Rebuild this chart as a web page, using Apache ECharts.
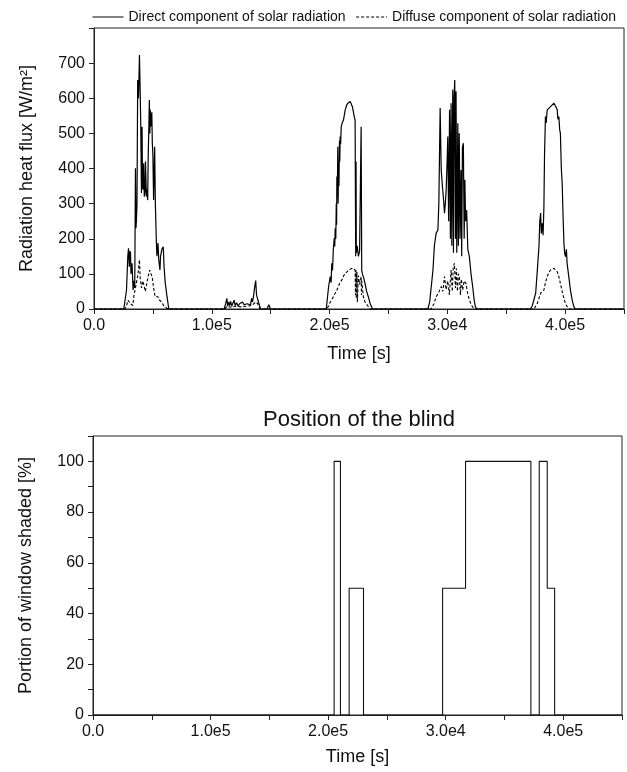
<!DOCTYPE html>
<html>
<head>
<meta charset="utf-8">
<script src="https://cdn.jsdelivr.net/npm/echarts@6/dist/echarts.min.js"></script>
<style>html,body{margin:0;padding:0;background:#fff}#c{width:627px;height:772px}</style>
</head>
<body>
<div id="c"></div>
<script>
// ---- Data (time in s, flux in W/m2) ----
const directDay1 = [[0,0],[25300,0],[27600,54],[28700,150],[29300,173],[30000,120],[30500,165],[31000,159],[31400,100],[31800,95],[32300,130],[33200,54],[33900,80],[34600,60],[35200,401],[35600,230],[36000,250],[36500,300],[37100,652],[37800,600],[38600,723],[39100,640],[39700,524],[40300,330],[40800,519],[41200,350],[41600,340],[42200,415],[42700,320],[43300,330],[43700,420],[44500,320],[45000,340],[45600,310],[46000,433],[46600,520],[47000,595],[47400,500],[47800,567],[48200,520],[48700,547],[49100,560],[49500,473],[50000,440],[50600,310],[51000,380],[51500,462],[52100,300],[52900,196],[53400,150],[54300,188],[55000,140],[56000,111],[56500,150],[57600,170],[58800,177],[59500,120],[60500,74],[62000,35],[63500,0]];
const directDay2 = [[110500,0],[111800,15],[112800,30],[113500,8],[114300,20],[115200,10],[116000,22],[116900,8],[117700,15],[119000,25],[119800,10],[121100,18],[122400,8],[123600,15],[124900,10],[126200,20],[127400,12],[128700,8],[130000,15],[131600,20],[132900,12],[133800,30],[134600,20],[135400,35],[136300,60],[137300,81],[138000,40],[138800,30],[139700,35],[140500,10],[141500,0],[146800,0],[148500,12],[149800,0]];
const directDay3 = [[197200,0],[199200,64],[200600,92],[201300,75],[201900,130],[202500,110],[203200,170],[204000,202],[204400,178],[204800,230],[205300,200],[205700,300],[206000,240],[206200,377],[206600,320],[207000,462],[207300,300],[207600,420],[208000,350],[208400,480],[208700,420],[209000,491],[209400,470],[209900,519],[210800,530],[211800,538],[213300,567],[214500,580],[215500,586],[216500,590],[217500,591],[218500,588],[219400,576],[220300,560],[221100,545],[221700,538],[222000,300],[222200,150],[222500,420],[222700,160],[223500,180],[224500,150],[225500,165],[226400,160],[226800,519],[227100,300],[227300,110],[227900,100],[228700,92],[230100,73],[231500,50],[232900,35],[234500,15],[236500,0]];
const directDay4 = [[283500,0],[285000,20],[287800,111],[289000,180],[290500,216],[292000,225],[292800,301],[293900,572],[294800,396],[295800,350],[296800,311],[297600,273],[298300,300],[299000,339],[299800,420],[300400,491],[301100,250],[301900,567],[302600,200],[303200,586],[303800,180],[304600,624],[305200,160],[305700,600],[306300,652],[306900,200],[307400,620],[308000,160],[308900,529],[309400,180],[310100,500],[310800,200],[311600,396],[312200,150],[312800,460],[313600,472],[314300,200],[314900,368],[315500,250],[316400,282],[317400,170],[318700,149],[320100,100],[321500,64],[322800,25],[323800,7],[324900,0]];
const directDay5 = [[370700,0],[372200,10],[375000,45],[376400,110],[377800,178],[378500,250],[379200,273],[379800,215],[380600,244],[381300,210],[382000,291],[382500,434],[383300,548],[383900,530],[384800,567],[386200,570],[387600,576],[389000,580],[390500,586],[391800,578],[393300,567],[393900,540],[394700,548],[395400,510],[396000,500],[396800,400],[397500,358],[398400,250],[399000,187],[399600,160],[400300,149],[401100,170],[401700,130],[403200,90],[404500,54],[406000,25],[407400,7],[408500,0],[450000,0]];

const diffuseDay1 = [[0,0],[26200,0],[27600,10],[28900,25],[30000,20],[31000,15],[31800,20],[32900,10],[34000,40],[35200,60],[36300,80],[37400,100],[38600,140],[39200,90],[40300,60],[41400,80],[42200,70],[43600,50],[44700,70],[45800,90],[47300,111],[48400,100],[49500,90],[50600,60],[51900,35],[52900,30],[54300,35],[55700,25],[57400,20],[59100,10],[60800,5],[62700,0]];
const diffuseDay2 = [[111000,0],[113000,8],[116000,5],[120000,8],[125000,6],[130000,8],[134000,10],[137300,20],[139000,15],[141000,0]];
const diffuseDay3 = [[197500,0],[199500,10],[200600,20],[201900,26],[203200,35],[204800,45],[206200,54],[207600,65],[209000,76],[210500,83],[212000,95],[213300,100],[214800,106],[216500,112],[218000,116],[219400,116],[220500,114],[221700,111],[222000,40],[222400,110],[222700,30],[223200,105],[223600,20],[224500,95],[225500,70],[226800,92],[227100,40],[227300,80],[228700,35],[230100,20],[232900,7],[234500,0]];
const diffuseDay4 = [[286100,0],[288700,15],[290500,35],[292400,45],[294800,64],[296200,50],[297600,92],[299000,55],[300400,80],[301700,40],[303200,111],[304200,50],[305000,120],[306000,130],[306900,60],[307700,115],[308600,50],[309400,100],[310300,92],[311100,40],[311900,85],[313000,54],[314300,80],[315800,73],[317200,45],[318700,26],[320600,10],[322900,0]];
const diffuseDay5 = [[373600,0],[376400,16],[377800,30],[379200,45],[380600,40],[382000,54],[383300,75],[384800,92],[386200,104],[387600,111],[389000,115],[390500,116],[391800,112],[393300,106],[394700,92],[396000,73],[397500,50],[399000,30],[400300,15],[401700,7],[403400,0],[450000,0]];

// Blind position (% shaded), value holds from each time until the next
const blindTime  = [0, 205100, 210500, 217900, 230100, 297400, 316900, 372500, 379600, 386400, 392700, 450000];
const blindShade = [0, 100, 0, 50, 0, 50, 100, 0, 100, 50, 0, 0];

const xTickValues = [0, 100000, 200000, 300000, 400000];
const xTickLabels = ['0.0', '1.0e5', '2.0e5', '3.0e4', '4.0e5'];

const seriesNames = ['Direct component of solar radiation', 'Diffuse component of solar radiation'];

// ---- Build ----
const directData = [].concat(directDay1, directDay2, directDay3, directDay4, directDay5);
const diffuseData = [].concat(diffuseDay1, diffuseDay2, diffuseDay3, diffuseDay4, diffuseDay5);
const blindData = blindTime.map((t, i) => [t, blindShade[i]]);

const FONT = 'Liberation Sans, Arial, Helvetica, sans-serif';
const INK = '#111';
const AX = '#222';

function xFmt(v) {
  const i = xTickValues.indexOf(v);
  return i >= 0 ? xTickLabels[i] : '';
}

function xAxisCfg(gi, gap) {
  return {
    gridIndex: gi, type: 'value', min: 0, max: 450000, interval: 50000,
    axisLine: { lineStyle: { color: AX, width: 1 } },
    axisTick: { show: true, inside: false, length: 5, lineStyle: { color: AX } },
    splitLine: { show: false },
    axisLabel: { formatter: xFmt, fontSize: 16, color: INK, margin: 9, fontFamily: FONT },
    name: 'Time [s]', nameLocation: 'middle', nameGap: gap,
    nameTextStyle: { fontSize: 18, color: INK, fontFamily: FONT }
  };
}

const chart = echarts.init(document.getElementById('c'), null, { renderer: 'canvas' });
chart.setOption({
  animation: false,
  backgroundColor: '#fff',
  textStyle: { fontFamily: FONT },
  title: {
    text: 'Position of the blind', left: 258, top: 404,
    textStyle: { fontSize: 22, fontWeight: 'normal', color: INK, fontFamily: FONT }
  },
  legend: {
    data: seriesNames, left: 87, top: 5, width: 900, itemWidth: 31, itemHeight: 14, itemGap: 10,
    itemStyle: { opacity: 0, borderWidth: 0 },
    lineStyle: { width: 1 },
    textStyle: { fontSize: 14, color: INK, fontFamily: FONT },
    selectedMode: false
  },
  grid: [
    { left: 94, top: 28, width: 534, height: 281, show: true, borderColor: AX, borderWidth: 1, backgroundColor: 'transparent' },
    { left: 93, top: 436, width: 529, height: 279, show: true, borderColor: AX, borderWidth: 1, backgroundColor: 'transparent' }
  ],
  xAxis: [xAxisCfg(0, 36), xAxisCfg(1, 33)],
  yAxis: [
    {
      gridIndex: 0, type: 'value', min: 0, max: 800, interval: 100,
      axisLine: { show: true, lineStyle: { color: AX } },
      axisTick: { show: true, length: 5, lineStyle: { color: AX } },
      splitLine: { show: false },
      axisLabel: { formatter: v => (v === 800 ? '' : String(v)), fontSize: 16, color: INK, margin: 9, fontFamily: FONT },
      name: 'Radiation heat flux [W/m²]', nameLocation: 'middle', nameGap: 58,
      nameTextStyle: { fontSize: 18, color: INK, fontFamily: FONT }
    },
    {
      gridIndex: 1, type: 'value', min: 0, max: 110, interval: 10,
      axisLine: { show: true, lineStyle: { color: AX } },
      axisTick: { show: true, length: 5, lineStyle: { color: AX } },
      splitLine: { show: false },
      axisLabel: { formatter: v => (v % 20 === 0 && v <= 100 ? String(v) : ''), fontSize: 16, color: INK, margin: 9, fontFamily: FONT },
      name: 'Portion of window shaded [%]', nameLocation: 'middle', nameGap: 58,
      nameTextStyle: { fontSize: 18, color: INK, fontFamily: FONT }
    }
  ],
  series: [
    {
      name: seriesNames[0], type: 'line', xAxisIndex: 0, yAxisIndex: 0,
      data: directData, symbol: 'none', showSymbol: false,
      lineStyle: { color: '#000', width: 1.2 }, itemStyle: { color: '#000' }
    },
    {
      name: seriesNames[1], type: 'line', xAxisIndex: 0, yAxisIndex: 0,
      data: diffuseData, symbol: 'none', showSymbol: false,
      lineStyle: { color: '#000', width: 1.1, type: [3, 2] }, itemStyle: { color: '#000' }
    },
    {
      name: 'Blind', type: 'line', xAxisIndex: 1, yAxisIndex: 1, step: 'end',
      data: blindData, symbol: 'none', showSymbol: false,
      lineStyle: { color: '#111', width: 1.1 }
    }
  ]
});
</script>
</body>
</html>
